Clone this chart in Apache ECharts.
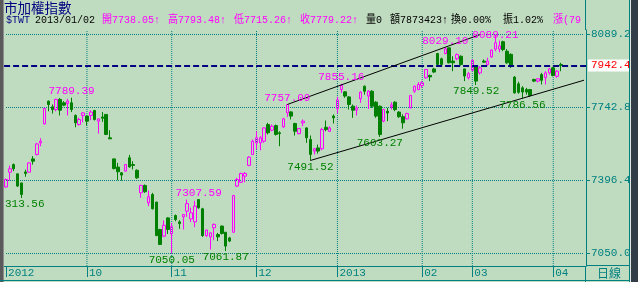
<!DOCTYPE html>
<html><head><meta charset="utf-8">
<script src="https://cdn.jsdelivr.net/npm/echarts@6/dist/echarts.min.js"></script>
<style>html,body{margin:0;padding:0;background:#c0dcc0;}#c{width:638px;height:282px;}</style>
</head><body><div id="c"></div>
<script>
// ---- data ----
const opens = [7366,7436,7472,7428,7385,7437,7436,7499,7520,7575,
7665,7773,7746,7733,7781,7765,7762,7765,7705,7662,
7705,7702,7705,7729,7678,7698,7710,7599,7499,7460,
7433,7441,7504,7472,7445,7338,7373,7290,7330,7294,
7164,7132,7219,7143,7230,7200,7224,7251,7214,7200,
7306,7262,7135,7129,7172,7140,7180,7151,7124,7151,
7370,7388,7417,7468,7520,7575,7575,7583,7662,7635,
7657,7623,7651,7717,7722,7667,7619,7670,7646,7591,
7536,7551,7547,7649,7630,7702,7738.05,7828,7817,7793,
7749,7730,7784,7844,7797,7820,7768,7749,7678,7725,
7746,7768,7721,7699,7689,7741,7820,7828,7847,7884,
7895,7926,7999,7974,7999,8026,7963,7974,7986,7926,
7884,7920,7939,7907,7963,7947,7983,8020,8020,8055,
8010,7995,7887,7855,7836,7828,7828,7876,7868,7899,
7884,7907,7931,7891,7947];
const highs = [7406,7467,7477,7428,7385,7448,7482,7512,7575,7597,
7741,7776,7757,7785,7788,7773,7784,7789.39,7710,7694,
7721,7705,7729,7729,7689,7721,7710,7635,7500,7480,
7436,7474,7518,7488,7449,7376,7377,7349,7338,7295,
7167,7207,7222,7196,7235,7208,7236,7306,7267,7300,
7307.59,7267,7164,7151,7192,7148,7183,7151,7129,7328,
7409,7433,7436,7512,7591,7630,7607,7648,7670,7662,
7662,7630,7694,7757.09,7725,7670,7646,7686,7648,7610,
7551,7567,7646,7681,7654,7710,7793.48,7855.16,7820,7797,
7757,7752,7820,7847,7825,7825,7773,7752,7736,7741,
7768,7773,7725,7710,7718,7803,7847,7863,7868,7926,
7899,7931,8002,7979,8029.10,8026,7986,7999,7990,7926,
7911,7971,7942,7939,7971,7979,8018,8089.21,8060,8060,
8020,8000,7892,7865,7844,7836,7831,7879,7882,7907,
7915,7931,7936,7920,7955];
const lows = [7362,7396,7441,7366,7313.56,7414,7434,7472,7515,7559,
7662,7725,7714,7725,7705,7749,7705,7721,7649,7657,
7673,7657,7683,7681,7619,7675,7612,7594,7449,7398,
7396,7439,7457,7449,7404,7314,7338,7275,7259,7132,
7090,7130,7143,7050.05,7203,7167,7164,7224,7199,7175,
7262,7129,7129,7069,7113,7109,7140,7061.87,7104,7148,
7366,7385,7388,7464,7517,7544,7540,7575,7615,7630,
7610,7559,7646,7698,7686,7610,7615,7654,7575,7491.52,
7520,7524,7540,7630,7626,7667,7715.26,7812,7789,7733,
7694,7705,7765,7804,7736,7741,7694,7603.27,7673,7678,
7733,7725,7694,7642,7686,7739,7812,7825,7836,7879,
7868,7907,7936,7939,7995,7952,7915,7967,7942,7868,
7876,7915,7849.52,7899,7955,7942,7979,8010,8005,8010,
7950,7930,7809,7808,7786.56,7804,7793,7863,7862,7852,
7852,7899,7891,7884,7915];
const closes = [7401,7452,7452,7370,7330,7430,7480,7488,7570,7583,
7738,7757,7733,7781,7730,7754,7773,7733,7670,7686,
7717,7678,7721,7686,7689,7692,7615,7594,7453,7438,
7422,7472,7461,7468,7409,7373,7343,7319,7262,7135,
7093,7184,7164,7177,7211,7192,7235,7287,7243,7275,
7267,7135,7161,7148,7188,7129,7145,7085,7109,7325,
7401,7430,7430,7507,7583,7599,7599,7646,7623,7654,
7615,7619,7689,7757,7702,7630,7643,7678,7599,7520,
7547,7536,7638,7638,7646,7694,7779.22,7847,7797,7757,
7730,7741,7816,7820,7820,7749,7702,7615,7733,7717,
7755,7733,7699,7670,7714,7800,7844,7852,7860,7923,
7888,7911,7947,7947,8021,7955,7955,7994,7947,7892,
7903,7966,7868,7931,7958,7963,8015,8050,8035,8018,
7955,7940,7812,7815,7816,7816,7800,7868,7879,7872,
7907,7926,7895,7915,7942.4];
const monthStartIdx = [0,21,43,65,86,108,121,142];
const monthLabels = ['2012','10','11','12','2013','02','03','04'];
const yTickLabels = [7050.0,7396.4,7742.8,8089.2];
const yMinorTicks = [7050.0,7136.6,7223.2,7309.8,7396.4,7483.0,7569.6,7656.2,7742.8,7829.4,7916.0,8002.6,8089.2];
const lastPrice = 7942.4;
const highMarkIdx = [17,50,73,87,114,127];
const lowMarkIdx = [4,43,57,79,97,122,134];
const upperTrend = {a:73, b:114, end:123};   // through two highs
const lowerTrend = {a:79, b:134, end:150};   // through two lows
const totalSlots = 151;
const categories = Array.from({length: totalSlots}, (_, i) => String(i));

// ---- build ----
const candleData = opens.map((o, i) => [o, closes[i], lows[i], highs[i]]);
const TEAL = '#008080', MAG = '#ff00ff', GRN = '#008000', NAVY = '#000080';
const MONO = '"Liberation Mono", "DejaVu Sans Mono", monospace';
const yMin = 6990.68, yMax = 8110.55;

function trendPts(t, arr) {
  const s = (arr[t.b] - arr[t.a]) / (t.b - t.a);
  return [{coord: [String(t.a), arr[t.a]]}, {coord: [String(t.end), arr[t.a] + s * (t.end - t.a)]}];
}

const markPts = [];
highMarkIdx.forEach(i => {
  const off = highs[i] > 8060 ? [0, 7] : [0, 0];
  markPts.push({coord: [String(i), highs[i]], value: highs[i],
    label: {position: 'top', distance: 1, color: MAG, offset: off}});
});
lowMarkIdx.forEach(i => {
  markPts.push({coord: [String(i), lows[i]], value: lows[i],
    label: {position: 'bottom', distance: 1, color: GRN}});
});

const solidBlack = {type: 'solid', color: '#000000', width: 1};
const lineItems = [];
lineItems.push({yAxis: lastPrice, lineStyle: {type: [6, 3], color: NAVY, width: 2},
  label: {show: true, position: 'end', formatter: lastPrice.toFixed(1), distance: 2,
    color: '#ff0000', backgroundColor: '#ffffff', padding: [1, 2, 0, 3],
    fontFamily: MONO, fontSize: 11}});
lineItems.push(trendPts(upperTrend, highs).map((p, k) => k ? p : Object.assign(p, {lineStyle: solidBlack})));
lineItems.push(trendPts(lowerTrend, lows).map((p, k) => k ? p : Object.assign(p, {lineStyle: solidBlack})));

// dotted grid lines, drawn as series through the axes
const gridSeries = [];
const dotted = {type: 'dotted', color: TEAL, width: 1};
yTickLabels.forEach(v => gridSeries.push({
  type: 'line', silent: true, z: 1, symbol: 'none', showSymbol: false, animation: false,
  lineStyle: dotted, data: [['0', v], [String(totalSlots - 1), v]]
}));
monthStartIdx.slice(1).forEach(i => gridSeries.push({
  type: 'line', silent: true, z: 1, symbol: 'none', showSymbol: false, animation: false,
  lineStyle: dotted, data: [[String(i), yMin], [String(i), yMax]]
}));

const chart = echarts.init(document.getElementById('c'), null, {renderer: 'canvas'});

const hdrFont = '11px "Liberation Mono", "Noto Sans CJK TC", monospace';
function htxt(x, text, fill) {
  return {type: 'text', x: x, y: 15, scaleX: 0.91, z: 120,
    style: {text: text, fill: fill, font: hdrFont, textAlign: 'left', textVerticalAlign: 'top'}};
}

chart.setOption({
  animation: false,
  backgroundColor: '#c0dcc0',
  grid: {left: 4.1, top: 30, width: 581.9, height: 236},
  xAxis: {
    type: 'category', data: categories, boundaryGap: true,
    axisLine: {show: true, lineStyle: {color: TEAL, width: 1}},
    axisTick: {show: true, alignWithLabel: true, length: 11, inside: false,
      interval: (idx) => monthStartIdx.indexOf(idx) >= 0,
      lineStyle: {color: TEAL, width: 1}},
    axisLabel: {show: true, showMinLabel: true,
      interval: (idx) => monthStartIdx.indexOf(idx) >= 0,
      formatter: (v, idx) => { const k = monthStartIdx.indexOf(Number(v)); return k >= 0 ? monthLabels[k] : ''; },
      align: 'left', padding: [0, 0, 0, 2], margin: 2, verticalAlign: 'top',
      color: TEAL, fontFamily: MONO, fontSize: 11},
    splitLine: {show: false}
  },
  yAxis: [{
    type: 'value', position: 'right', min: yMin, max: yMax,
    axisLine: {show: true, lineStyle: {color: TEAL, width: 1}},
    axisTick: {show: true, customValues: yTickLabels, length: 4, lineStyle: {color: TEAL}},
    axisLabel: {show: true, customValues: yTickLabels, formatter: v => Number(v).toFixed(1),
      margin: 5, color: TEAL, fontFamily: MONO, fontSize: 11},
    splitLine: {show: false}
  }, {
    type: 'value', position: 'right', min: yMin, max: yMax,
    axisLine: {show: false},
    axisTick: {show: true, customValues: yMinorTicks, length: 1, lineStyle: {color: TEAL}},
    axisLabel: {show: false}, splitLine: {show: false}
  }],
  series: gridSeries.concat([{
    type: 'candlestick', name: '$TWT', data: candleData, z: 2, barWidth: 3,
    itemStyle: {color: 'transparent', color0: GRN, borderColor: MAG, borderColor0: GRN, borderWidth: 1},
    markPoint: {silent: true, symbol: 'circle', symbolSize: 0, z: 6,
      label: {show: true, formatter: p => Number(p.value).toFixed(2), fontFamily: MONO, fontSize: 11},
      data: markPts},
    markLine: {silent: true, z: 5, symbol: ['none', 'none'], label: {show: false}, data: lineItems}
  }]),
  graphic: [
    {type: 'rect', z: 100, shape: {x: 0, y: 0, width: 3, height: 282}, style: {fill: '#5a5a5a'}},
    {type: 'line', z: 100, shape: {x1: 3.5, y1: 0, x2: 3.5, y2: 282}, style: {stroke: '#8c8c8c', lineWidth: 1}},
    {type: 'line', z: 100, shape: {x1: 585.5, y1: 0, x2: 585.5, y2: 30}, style: {stroke: TEAL, lineWidth: 1}},
    {type: 'line', z: 100, shape: {x1: 585.5, y1: 266, x2: 585.5, y2: 282}, style: {stroke: TEAL, lineWidth: 1}},
    {type: 'line', z: 100, shape: {x1: 586, y1: 265.5, x2: 630, y2: 265.5}, style: {stroke: TEAL, lineWidth: 1}},
    {type: 'line', z: 100, shape: {x1: 0, y1: 280.5, x2: 630, y2: 280.5}, style: {stroke: TEAL, lineWidth: 1}},
    {type: 'line', z: 100, shape: {x1: 629.5, y1: 0, x2: 629.5, y2: 282}, style: {stroke: TEAL, lineWidth: 1}},
    {type: 'line', z: 100, shape: {x1: 630.5, y1: 0, x2: 630.5, y2: 282}, style: {stroke: '#dfe8df', lineWidth: 1}},
    {type: 'rect', z: 100, shape: {x: 631, y: 0, width: 7, height: 282}, style: {fill: '#333d47'}},
    {type: 'text', x: 4, y: 1, z: 120, style: {text: '市加權指數', fill: NAVY,
      font: '13.5px "Noto Sans CJK TC", sans-serif', textAlign: 'left', textVerticalAlign: 'top'}},
    htxt(6, '$TWT', NAVY),
    htxt(35, '2013/01/02', '#000000'),
    htxt(102, '開7738.05↑', MAG),
    htxt(168, '高7793.48↑', MAG),
    htxt(234, '低7715.26↑', MAG),
    htxt(300, '收7779.22↑', MAG),
    htxt(366, '量0', '#000000'),
    htxt(390, '額7873423↑', '#000000'),
    htxt(451, '換0.00%', '#000000'),
    htxt(503, '振1.02%', '#000000'),
    htxt(553, '漲(79', MAG),
    {type: 'text', x: 597, y: 267, z: 120, style: {text: '日線', fill: TEAL,
      font: '12px "Noto Sans CJK TC", sans-serif', textAlign: 'left', textVerticalAlign: 'top'}}
  ]
});
</script></body></html>
